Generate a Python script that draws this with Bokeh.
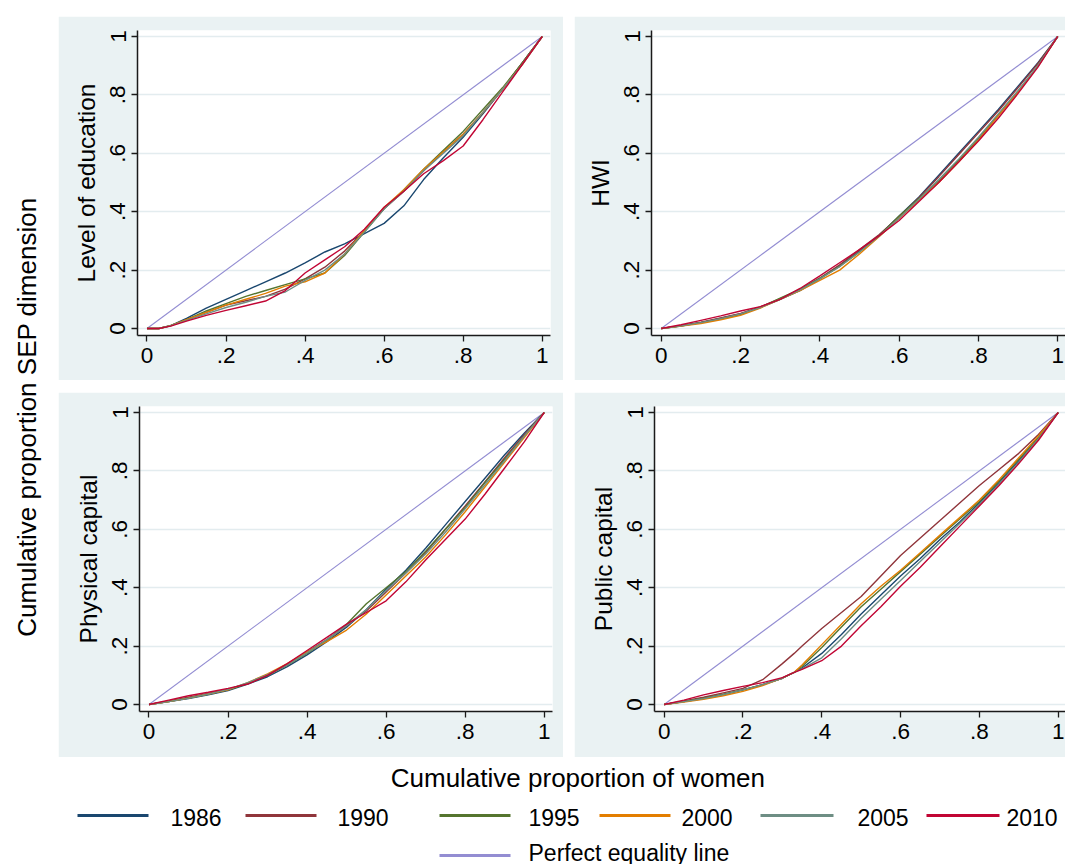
from bokeh.plotting import figure
from bokeh.layouts import column, row, Spacer
from bokeh.models import FixedTicker, Range1d
from bokeh.core.properties import value
from bokeh.embed import file_html
from bokeh.resources import INLINE
import math

FONT = "Liberation Sans"
BG = "#EAF2F3"
GRID = "#E3ECEF"
AXIS = "#1a1a1a"

# ---------------- data ----------------
years = ["1986", "1990", "1995", "2000", "2005", "2010"]
year_colors = ["#1A476F", "#90353B", "#55752F", "#E37E00", "#6E8E84", "#C10534"]
eq_label = "Perfect equality line"
eq_color = "#938DD2"
eq_x = [0, 1]
eq_y = [0, 1]

tick_values = [0, 0.2, 0.4, 0.6, 0.8, 1.0]
tick_labels = ["0", ".2", ".4", ".6", ".8", "1"]

x_title = "Cumulative proportion  of women"
y_title = "Cumulative proportion  SEP dimension"
panel_titles = ["Level of education", "HWI", "Physical capital", "Public capital"]

# Panel 1: Level of education
edu_x = [0, 0.03, 0.06, 0.1, 0.15, 0.2, 0.25, 0.3, 0.35, 0.4, 0.45, 0.5, 0.55,
         0.6, 0.65, 0.7, 0.75, 0.8, 0.85, 0.9, 0.95, 1.0]
edu_1986 = [0, 0.0, 0.01, 0.035, 0.07, 0.10, 0.13, 0.16, 0.19, 0.225, 0.262, 0.29, 0.325,
            0.36, 0.42, 0.51, 0.585, 0.655, 0.735, 0.82, 0.91, 1.0]
edu_1990 = [0, 0.0, 0.01, 0.03, 0.055, 0.08, 0.095, 0.11, 0.135, 0.17, 0.21, 0.265, 0.335,
            0.41, 0.47, 0.54, 0.605, 0.665, 0.74, 0.82, 0.91, 1.0]
edu_1995 = [0, 0.0, 0.01, 0.03, 0.06, 0.085, 0.11, 0.13, 0.15, 0.17, 0.19, 0.25, 0.33,
            0.41, 0.475, 0.545, 0.61, 0.675, 0.75, 0.825, 0.91, 1.0]
edu_2000 = [0, 0.0, 0.01, 0.03, 0.055, 0.08, 0.10, 0.12, 0.145, 0.16, 0.19, 0.255, 0.335,
            0.415, 0.475, 0.545, 0.605, 0.665, 0.74, 0.82, 0.905, 1.0]
edu_2005 = [0, 0.0, 0.01, 0.028, 0.05, 0.072, 0.09, 0.11, 0.125, 0.165, 0.2, 0.255, 0.33,
            0.41, 0.47, 0.54, 0.6, 0.66, 0.74, 0.82, 0.905, 1.0]
edu_2010 = [0, 0.0, 0.008, 0.025, 0.045, 0.062, 0.078, 0.094, 0.13, 0.19, 0.235, 0.28, 0.34,
            0.415, 0.47, 0.53, 0.575, 0.625, 0.715, 0.81, 0.905, 1.0]

# Panel 2: HWI
hwi_x = [0, 0.05, 0.1, 0.15, 0.2, 0.25, 0.3, 0.35, 0.4, 0.45, 0.5, 0.55, 0.6, 0.65,
         0.7, 0.75, 0.8, 0.85, 0.9, 0.95, 1.0]
hwi_1986 = [0, 0.008, 0.02, 0.035, 0.05, 0.072, 0.1, 0.13, 0.17, 0.215, 0.265, 0.32, 0.385,
            0.45, 0.525, 0.6, 0.675, 0.75, 0.83, 0.91, 1.0]
hwi_1990 = [0, 0.01, 0.022, 0.036, 0.052, 0.074, 0.102, 0.133, 0.173, 0.218, 0.27, 0.322,
            0.382, 0.448, 0.52, 0.595, 0.67, 0.745, 0.825, 0.908, 1.0]
hwi_1995 = [0, 0.009, 0.02, 0.033, 0.048, 0.073, 0.104, 0.135, 0.172, 0.213, 0.262, 0.318,
            0.385, 0.445, 0.505, 0.575, 0.65, 0.73, 0.812, 0.9, 1.0]
hwi_2000 = [0, 0.008, 0.017, 0.03, 0.045, 0.07, 0.1, 0.13, 0.165, 0.2, 0.255, 0.315, 0.378,
            0.44, 0.5, 0.57, 0.645, 0.728, 0.81, 0.898, 1.0]
hwi_2005 = [0, 0.009, 0.02, 0.034, 0.05, 0.072, 0.1, 0.132, 0.17, 0.212, 0.262, 0.317,
            0.378, 0.443, 0.51, 0.58, 0.655, 0.735, 0.815, 0.9, 1.0]
hwi_2010 = [0, 0.013, 0.028, 0.043, 0.06, 0.075, 0.1, 0.137, 0.18, 0.225, 0.27, 0.318,
            0.37, 0.435, 0.5, 0.57, 0.642, 0.72, 0.805, 0.895, 1.0]

# Panel 3: Physical capital
phy_x = [0, 0.05, 0.1, 0.15, 0.2, 0.25, 0.3, 0.35, 0.4, 0.45, 0.5, 0.55, 0.6, 0.65,
         0.7, 0.75, 0.8, 0.85, 0.9, 0.95, 1.0]
phy_1986 = [0, 0.01, 0.02, 0.033, 0.048, 0.07, 0.095, 0.13, 0.17, 0.215, 0.265, 0.325,
            0.395, 0.46, 0.535, 0.615, 0.695, 0.775, 0.855, 0.93, 1.0]
phy_1990 = [0, 0.012, 0.025, 0.038, 0.052, 0.072, 0.1, 0.138, 0.18, 0.222, 0.27, 0.32,
            0.385, 0.45, 0.52, 0.6, 0.68, 0.762, 0.845, 0.925, 1.0]
phy_1995 = [0, 0.01, 0.022, 0.035, 0.05, 0.072, 0.1, 0.135, 0.175, 0.22, 0.275, 0.345,
            0.4, 0.455, 0.525, 0.6, 0.675, 0.76, 0.84, 0.92, 1.0]
phy_2000 = [0, 0.01, 0.022, 0.036, 0.05, 0.075, 0.105, 0.14, 0.18, 0.215, 0.255, 0.31,
            0.375, 0.44, 0.505, 0.58, 0.66, 0.745, 0.83, 0.915, 1.0]
phy_2005 = [0, 0.01, 0.022, 0.036, 0.052, 0.075, 0.102, 0.136, 0.177, 0.222, 0.27, 0.325,
            0.39, 0.45, 0.515, 0.59, 0.67, 0.752, 0.835, 0.92, 1.0]
phy_2010 = [0, 0.015, 0.03, 0.042, 0.055, 0.07, 0.1, 0.14, 0.185, 0.23, 0.275, 0.315,
            0.355, 0.42, 0.495, 0.565, 0.635, 0.72, 0.81, 0.9, 1.0]

# Panel 4: Public capital
pub_x = [0, 0.05, 0.1, 0.15, 0.2, 0.25, 0.3, 0.33, 0.35, 0.4, 0.45, 0.5, 0.55, 0.6,
         0.65, 0.7, 0.75, 0.8, 0.85, 0.9, 0.95, 1.0]
pub_1986 = [0, 0.01, 0.02, 0.034, 0.05, 0.068, 0.09, 0.11, 0.125, 0.175, 0.24, 0.31,
            0.375, 0.44, 0.5, 0.565, 0.625, 0.69, 0.76, 0.835, 0.91, 1.0]
pub_1990 = [0, 0.012, 0.025, 0.04, 0.055, 0.085, 0.14, 0.175, 0.2, 0.26, 0.315, 0.37,
            0.44, 0.51, 0.57, 0.63, 0.69, 0.75, 0.805, 0.86, 0.925, 1.0]
pub_1995 = [0, 0.01, 0.022, 0.035, 0.05, 0.068, 0.09, 0.11, 0.13, 0.195, 0.265, 0.335,
            0.395, 0.455, 0.515, 0.575, 0.635, 0.695, 0.765, 0.84, 0.915, 1.0]
pub_2000 = [0, 0.008, 0.018, 0.03, 0.045, 0.065, 0.09, 0.11, 0.135, 0.205, 0.275, 0.345,
            0.405, 0.46, 0.52, 0.58, 0.64, 0.70, 0.77, 0.845, 0.92, 1.0]
pub_2005 = [0, 0.01, 0.02, 0.034, 0.05, 0.068, 0.09, 0.11, 0.122, 0.16, 0.225, 0.295,
            0.36, 0.425, 0.49, 0.555, 0.62, 0.685, 0.755, 0.83, 0.91, 1.0]
pub_2010 = [0, 0.015, 0.033, 0.048, 0.062, 0.075, 0.092, 0.11, 0.12, 0.15, 0.2, 0.27,
            0.335, 0.405, 0.47, 0.54, 0.61, 0.68, 0.75, 0.825, 0.905, 1.0]

panels = [
    (edu_x, [edu_1986, edu_1990, edu_1995, edu_2000, edu_2005, edu_2010]),
    (hwi_x, [hwi_1986, hwi_1990, hwi_1995, hwi_2000, hwi_2005, hwi_2010]),
    (phy_x, [phy_1986, phy_1990, phy_1995, phy_2000, phy_2005, phy_2010]),
    (pub_x, [pub_1986, pub_1990, pub_1995, pub_2000, pub_2005, pub_2010]),
]


def make_panel(idx, width, height, bl, br, bt, bb, x_start, x_end):
    xs, series = panels[idx]
    p = figure(width=width, height=height,
               x_range=Range1d(x_start, x_end), y_range=Range1d(-0.024, 1.0205),
               output_backend="svg", toolbar_location=None,
               min_border_left=bl, min_border_right=br,
               min_border_top=bt, min_border_bottom=bb)
    p.border_fill_color = BG
    p.background_fill_color = "white"
    p.outline_line_color = None
    p.xgrid.visible = False
    p.ygrid.ticker = FixedTicker(ticks=tick_values)
    p.ygrid.grid_line_color = GRID
    p.ygrid.grid_line_width = 1.5
    for ax in (p.xaxis[0], p.yaxis[0]):
        ax.ticker = FixedTicker(ticks=tick_values)
        ax.major_label_overrides = {v: l for v, l in zip(tick_values, tick_labels)}
        ax.axis_line_color = AXIS
        ax.axis_line_width = 1.5
        ax.major_tick_line_color = AXIS
        ax.major_tick_line_width = 1.3
        ax.major_tick_out = 6
        ax.major_tick_in = 0
        ax.minor_tick_line_color = None
        ax.major_label_text_font = FONT
        ax.major_label_text_font_size = "22.5px"
        ax.major_label_text_color = "black"
        ax.major_label_standoff = 6
        ax.axis_label_text_font = FONT
        ax.axis_label_text_font_size = "24.5px"
        ax.axis_label_text_font_style = "normal"
        ax.axis_label_text_color = "black"
    p.yaxis[0].major_label_orientation = "vertical"
    p.yaxis[0].axis_label = panel_titles[idx]
    p.yaxis[0].axis_label_standoff = 8

    p.line(eq_x, eq_y, line_color=eq_color, line_width=1.1)
    for ys, c in zip(series, year_colors):
        p.line(xs, ys, line_color=c, line_width=1.4)
    return p


f1 = make_panel(0, 505, 364, 79, 13, 14, 45, -0.024, 1.021)
f2 = make_panel(1, 491, 364, 77, 0, 14, 45, -0.0245, 1.0195)
f3 = make_panel(2, 505, 365, 81, 11, 14, 46, -0.024, 1.021)
f4 = make_panel(3, 491, 365, 80, 0, 14, 46, -0.0245, 1.0186)

# left shared title
left = figure(width=58, height=757, x_range=Range1d(0, 58), y_range=Range1d(0, 757),
              output_backend="svg", toolbar_location=None,
              min_border=0)
left.axis.visible = False
left.grid.visible = False
left.outline_line_color = None
left.background_fill_color = "white"
left.border_fill_color = "white"
left.text(x=[26], y=[344], text=[y_title], angle=math.pi / 2,
          text_align="center", text_baseline="middle",
          text_font=value(FONT), text_font_size="26px", text_color="black")

# bottom: shared x title + legend
bottom = figure(width=1065, height=107, x_range=Range1d(0, 1065), y_range=Range1d(0, 107),
                output_backend="svg", toolbar_location=None, min_border=0)
bottom.axis.visible = False
bottom.grid.visible = False
bottom.outline_line_color = None
bottom.background_fill_color = "white"
bottom.border_fill_color = "white"
bottom.text(x=[581], y=[87], text=[x_title], text_align="center", text_baseline="middle",
            text_font=value(FONT), text_font_size="26px", text_color="black")

key_x0 = [77, 245, 439, 599, 760, 926]
key_x1 = [148, 316, 510, 670, 833, 999]
lab_x = [170, 337, 528, 681, 857, 1006]
bottom.segment(x0=key_x0, y0=[49] * 6, x1=key_x1, y1=[49] * 6,
               line_color=year_colors, line_width=3)
bottom.text(x=lab_x, y=[47] * 6, text=years, text_align="left", text_baseline="middle",
            text_font=value(FONT), text_font_size="23px", text_color="black")
bottom.segment(x0=[439], y0=[9], x1=[510], y1=[9], line_color=eq_color, line_width=3)
bottom.text(x=[528], y=[12], text=[eq_label], text_align="left", text_baseline="middle",
            text_font=value(FONT), text_font_size="23px", text_color="black")

grid = column(Spacer(height=16),
              row(f1, Spacer(width=11), f2),
              Spacer(height=12),
              row(f3, Spacer(width=11), f4))
layout = column(row(left, grid), bottom)

open("out.html", "w").write(file_html(layout, INLINE))
